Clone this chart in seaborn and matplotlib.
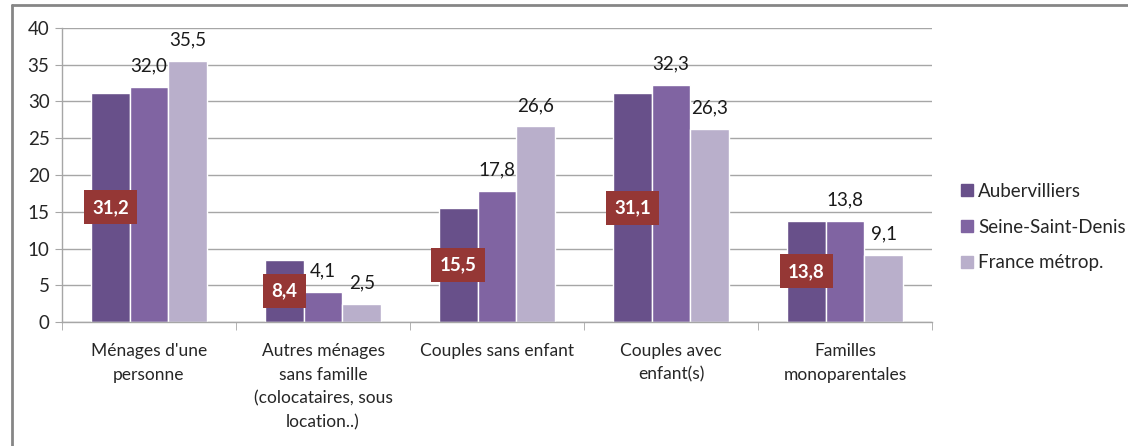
import matplotlib
matplotlib.use("Agg")
import matplotlib.pyplot as plt
import seaborn as sns
import pandas as pd
from matplotlib.lines import Line2D

# Data
categories = ["Ménages d'une\npersonne",
              "Autres ménages\nsans famille\n(colocataires, sous\nlocation..)",
              "Couples sans enfant",
              "Couples avec\nenfant(s)",
              "Familles\nmonoparentales"]
series = ["Aubervilliers", "Seine-Saint-Denis", "France métrop."]
aubervilliers = [31.2, 8.4, 15.5, 31.1, 13.8]
seine_saint_denis = [32.0, 4.1, 17.8, 32.3, 13.8]
france_metrop = [35.5, 2.5, 26.6, 26.3, 9.1]
colors = ["#68508A", "#8064A2", "#B9AFCB"]

rows = []
for name, vals in zip(series, [aubervilliers, seine_saint_denis, france_metrop]):
    for cat, v in zip(categories, vals):
        rows.append({"cat": cat, "serie": name, "val": v})
df = pd.DataFrame(rows)

sns.set_style("white")
plt.rcParams['font.family'] = ['Lato', 'DejaVu Sans']

fig = plt.figure(figsize=(11.28, 4.46), dpi=100)
ax = fig.add_axes([62 / 1128, 1 - 322 / 446, 870 / 1128, 294 / 446])

sns.barplot(data=df, x="cat", y="val", hue="serie", palette=colors,
            width=0.667, gap=0, saturation=1, ax=ax, legend=True)

ax.set_ylim(0, 40)
ax.set_xlim(-0.5, 4.5)
ax.set_yticks(range(0, 41, 5))
ax.yaxis.grid(True, color="#A6A6A6", lw=1)
ax.set_axisbelow(True)
ax.set_xlabel("")
ax.set_ylabel("")
for s in ["top", "right"]:
    ax.spines[s].set_visible(False)
for s in ["left", "bottom"]:
    ax.spines[s].set_color("#A6A6A6")
    ax.spines[s].set_linewidth(1)

ax.tick_params(axis="y", labelsize=13.5, length=5, color="#A6A6A6", left=True, pad=4)
ax.tick_params(axis="x", which="major", labelsize=12.5, length=0, pad=15)
ax.set_xticks([i - 0.5 for i in range(6)], minor=True)
ax.tick_params(axis="x", which="minor", length=6, color="#A6A6A6", bottom=True)
for lab in ax.get_xticklabels():
    lab.set_horizontalalignment("center")
    lab.set_linespacing(1.6)
    lab.set_verticalalignment("top")

# Labels: boxed inside Aubervilliers bars, plain above others
for bar in ax.containers[0]:
    h = bar.get_height()
    ax.text(bar.get_x() + bar.get_width() / 2, h / 2, f"{h:.1f}".replace(".", ","),
            ha="center", va="center", color="white", fontsize=13.5, fontweight="bold",
            bbox=dict(boxstyle="square,pad=0.45", facecolor="#953735", edgecolor="none"))
for cont in ax.containers[1:]:
    ax.bar_label(cont, labels=[f"{b.get_height():.1f}".replace(".", ",") for b in cont],
                 padding=9, fontsize=13.5, color="#1A1A1A")

handles = [Line2D([], [], marker="s", linestyle="none", markersize=9,
                  markerfacecolor=c, markeredgecolor=c) for c in colors]
ax.legend(handles, series, loc="center left", bbox_to_anchor=(1.01, 0.323),
          frameon=False, fontsize=13.5, handletextpad=0.1, labelspacing=1.0,
          handlelength=1.0)

# outer chart frame
fig.add_artist(Line2D([12 / 1128, 12 / 1128], [0, 1 - 5 / 446],
                      transform=fig.transFigure, color="#868686", lw=2))
fig.add_artist(Line2D([12 / 1128, 1], [1 - 5 / 446, 1 - 5 / 446],
                      transform=fig.transFigure, color="#868686", lw=2))

fig.savefig("out.png", dpi=100)
